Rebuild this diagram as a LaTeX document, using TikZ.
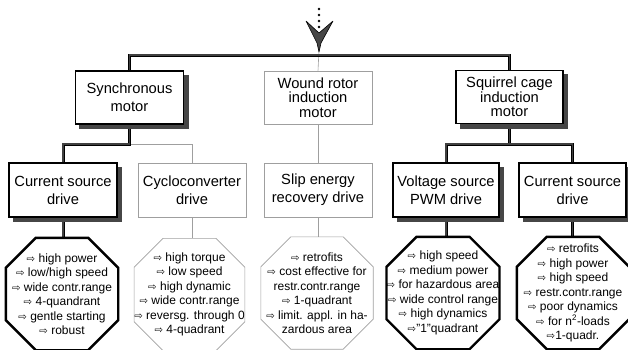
\documentclass[tikz,border=0pt]{standalone}
\usepackage{fontspec}
\usepackage{graphicx}
\setmainfont{Liberation Sans}
\newfontfamily\arrowfont{DejaVu Sans}
\usetikzlibrary{calc,backgrounds}
\newcommand\ar{{\arrowfont\scalebox{0.85}{⇨}}}
\newcommand\octo[3]{%
  \draw[#3] ($(#1.north west)+(#2,0)$) -- ($(#1.north east)+(-#2,0)$) -- ($(#1.north east)+(0,#2)$) -- ($(#1.south east)+(0,-#2)$) -- ($(#1.south east)+(-#2,0)$) -- ($(#1.south west)+(#2,0)$) -- ($(#1.south west)+(0,-#2)$) -- ($(#1.north west)+(0,#2)$) -- cycle;}
\newcommand\boxshadow[1]{%
  \fill[shadowfill] ($(#1.north west)+(4.5,4.5)$) rectangle ($(#1.south east)+(4.5,4.5)$);}
\tikzset{
  box/.style={minimum width=108pt, minimum height=53pt, inner sep=0pt, align=center,
    font=\fontsize{14.7}{18}\selectfont, fill=white},
  threeline/.style={font=\fontsize{14.7}{14.5}\selectfont},
  thinbox/.style={box, draw=gray!75, line width=0.6pt},
  thickbox/.style={box, draw=black, line width=1.8pt},
  shadowfill/.style={fill=gray!55!black},
  oct/.style={minimum width=112pt, minimum height=112pt, inner sep=0pt, align=center,
    font=\fontsize{12}{14.5}\selectfont},
  thinoct/.style={draw=gray!75, line width=0.6pt, line join=miter},
  thickoct/.style={draw=black, line width=2.4pt, line join=miter},
  thinconn/.style={draw=gray!75, line width=0.6pt},
  thickconn/.style={draw=black, line width=0.8pt, double=gray!50!black, double distance=1.4pt, line join=miter},
  dotmark/.style={fill=black, circle, inner sep=0pt, minimum size=2.8pt},
}
\begin{document}
\begin{tikzpicture}[x=1pt,y=-1pt]
\clip (0,0) rectangle (628,349);
% first row
\node[thickbox] (sync) at (129.5,97.5) {Synchronous\\motor};
\node[thinbox, threeline] (wound) at (318,97.5) {Wound rotor\\induction\\motor};
\node[thickbox, threeline, minimum width=107pt] (sq) at (509.5,97) {Squirrel cage\\induction\\motor};
% second row
\node[thickbox, minimum height=54pt] (lcs) at (63,190) {Current source\\drive};
\node[thinbox, minimum height=54pt] (cyc) at (192,190) {Cycloconverter\\drive};
\node[thinbox, minimum height=54pt] (slip) at (318,190) {Slip energy\\recovery drive};
\node[thickbox, minimum height=54pt, minimum width=106pt] (pwm) at (446,190) {Voltage source\\PWM drive};
\node[thickbox, minimum height=54pt, minimum width=107pt] (rcs) at (572.5,190) {Current source\\drive};
% octagons
\node[oct] (o1) at (62,294) {\ar\ high power\\\ar\ low/high speed\\\ar\ wide contr.range\\\ar\ 4-quandrant\\\ar\ gentle starting\\\ar\ robust};
\node[oct, minimum width=109pt] (o2) at (189.5,294.5) {\ar\ high torque\\\ar\ low speed\\\ar\ high dynamic\\\ar\ wide contr.range\\\ar\ reversg. through 0\\\ar\ 4-quadrant};
\node[oct, minimum width=112pt] (o3) at (317,293) {\ar\ retrofits\\\ar\ cost effective for\\restr.contr.range\\\ar\ 1-quadrant\\\ar\ limit. appl. in ha-\\zardous area};
\node[oct] (o4) at (443,293) {\ar\ high speed\\\ar\ medium power\\\ar\ for hazardous area\\\ar\ wide control range\\\ar\ high dynamics\\\ar"1"quadrant};
\node[oct] (o5) at (573,293) {\ar\ retrofits\\\ar\ high power\\\ar\ high speed\\\ar\ restr.contr.range\\\ar\ poor dynamics\\\ar\ for n\textsuperscript{2}-loads\\\ar1-quadr.};
\octo{o1}{30}{thickoct}
\octo{o2}{29}{thinoct}
\octo{o3}{30}{thinoct}
\octo{o4}{30}{thickoct}
\octo{o5}{30}{thickoct}
% top arrow
\coordinate (tip) at (319,50);
\coordinate (top) at (319,55);
\node[dotmark] (d1) at (319,9) {};
\node[dotmark] (d2) at (319,15) {};
\node[dotmark] (d3) at (319,21) {};
\node[dotmark] (d4) at (319,27) {};
\begin{scope}[on background layer]
\draw[thinconn] (tip) -- (wound.north);
\draw[thickconn] (sync.north) |- (sq.north |- top) -- (sq.north);
\draw[thinconn] (wound.south) -- (slip.north);
\draw[thinconn] (slip.south) -- (slip.south |- o3.north);
\draw[thinconn] (130,144) -| (cyc.north);
\draw[thinconn] (cyc.south) -- (cyc.south |- o2.north);
\draw[thickconn] (sync.south) |- (lcs.north |- 0,144) -- (lcs.north);
\draw[thickconn] (lcs.south) -- (lcs.south |- o1.north);
\draw[thickconn] (sq.south) -- (sq.south |- 0,144);
\draw[thickconn] (pwm.north) |- (rcs.north |- 0,144) -- (rcs.north);
\draw[thickconn] (pwm.south) -- (pwm.south |- o4.north);
\draw[thickconn] (rcs.south) -- (rcs.south |- o5.north);
\boxshadow{sync}
\boxshadow{sq}
\boxshadow{lcs}
\boxshadow{pwm}
\boxshadow{rcs}
\end{scope}
\filldraw[fill=gray!55!black, draw=black, line width=0.6pt, line join=round]
  (306,21) .. controls (311,32) .. (317,43) -- (319,52) -- (321,43) .. controls (327,32) .. (333,21) -- (319,33) -- cycle;
\end{tikzpicture}
\end{document}
